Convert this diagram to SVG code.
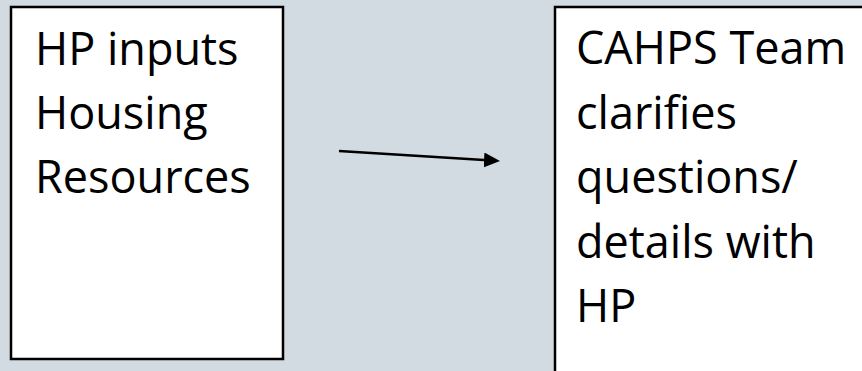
<svg xmlns="http://www.w3.org/2000/svg" width="862" height="371" viewBox="0 0 862 371">
  <style>
    .box { fill: #ffffff; stroke: #000000; stroke-width: 2.5; }
    .lbl { font-family: "Open Sans", "Liberation Sans", sans-serif; font-size: 45px; fill: #000000; }
    .conn { stroke: #000000; stroke-width: 2.5; fill: none; }
  </style>
  <defs>
    <marker id="arrow" markerUnits="userSpaceOnUse" markerWidth="17" markerHeight="16" refX="0" refY="7.5" orient="auto">
      <path d="M0,0 L16,7.5 L0,15 Z" fill="#000000"/>
    </marker>
  </defs>
  <rect x="0" y="0" width="862" height="371" fill="#d2dae2"/>
  <g id="node-hp-inputs">
    <rect class="box" x="11" y="7" width="272" height="352"/>
    <text class="lbl" x="35" y="65">HP inputs</text>
    <text class="lbl" x="35" y="129">Housing</text>
    <text class="lbl" x="35" y="193">Resources</text>
  </g>
  <g id="node-cahps">
    <rect class="box" x="555" y="7" width="330" height="380"/>
    <text class="lbl" x="576" y="64">CAHPS Team</text>
    <text class="lbl" x="576" y="129">clarifies</text>
    <text class="lbl" x="576" y="193">questions/</text>
    <text class="lbl" x="576" y="258">details with</text>
    <text class="lbl" x="576" y="322">HP</text>
  </g>
  <g id="connectors">
    <line class="conn" x1="339" y1="151" x2="484" y2="160" marker-end="url(#arrow)"/>
  </g>
</svg>
